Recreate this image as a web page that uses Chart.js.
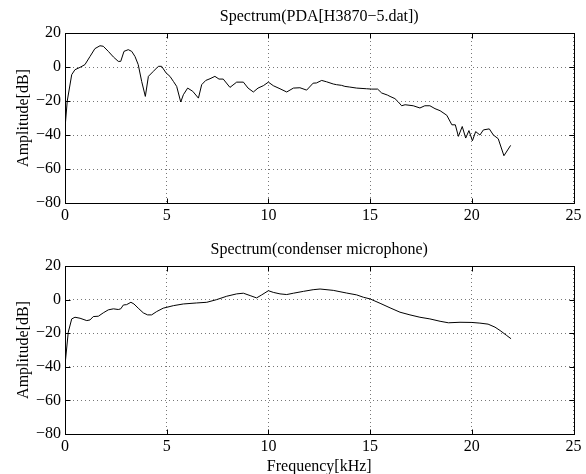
<!DOCTYPE html>
<html>
<head>
<meta charset="utf-8">
<script src="https://cdn.jsdelivr.net/npm/chart.js@4/dist/chart.umd.min.js"></script>
<style>
body { margin: 0; background: #fff; overflow: hidden; }
canvas { position: absolute; left: 0; }
</style>
</head>
<body>
<canvas id="topChart" width="586" height="237" style="top:0px"></canvas>
<canvas id="botChart" width="586" height="240" style="top:237px"></canvas>
<script>
// --- data
const xTicks = [0, 5, 10, 15, 20, 25];
const yTicks = [-80, -60, -40, -20, 0, 20];

const pdaFreq = [0, 0.11, 0.33, 0.49, 0.74, 0.98, 1.23, 1.47, 1.72, 1.88, 2.13, 2.38, 2.62, 2.74, 2.9,
  3.11, 3.28, 3.44, 3.6, 3.77, 3.95, 4.1, 4.34, 4.59, 4.75, 4.97, 5.16, 5.33, 5.49, 5.69, 5.82,
  6.03, 6.28, 6.56, 6.72, 6.92, 7.13, 7.37, 7.57, 7.78, 8.11, 8.44, 8.77, 9.0, 9.26, 9.49, 9.75,
  10.0, 10.24, 10.57, 10.9, 11.23, 11.55, 11.88, 12.2, 12.36, 12.62, 12.86, 13.19, 13.35, 13.6,
  13.76, 14.0, 14.34, 14.83, 15.08, 15.37, 15.57, 15.85, 15.98, 16.22, 16.39, 16.55, 16.72, 17.12,
  17.45, 17.69, 17.94, 18.19, 18.44, 18.77, 19.02, 19.19, 19.34, 19.53, 19.7, 19.86, 20.03, 20.19,
  20.4, 20.57, 20.86, 21.06, 21.3, 21.58, 21.91];
const pdaAmp = [-36, -20, -4.5, -1.6, -0.2, 1.4, 6.2, 10.8, 12.5, 12.2, 9.2, 5.9, 3.3, 3.3, 9.2,
  10.2, 9.2, 6.2, 1.4, -8.5, -17.3, -5.5, -2.6, 0.4, 0.4, -3.5, -5.5, -8.5, -11.4, -20.6, -16.3,
  -12.4, -14.3, -18.3, -10.4, -7.9, -6.9, -5.5, -7.1, -7.1, -12, -8.9, -8.9, -12.4, -14.7, -12.4, -11,
  -8.9, -11, -12.8, -14.7, -12.4, -12.2, -13.6, -9.5, -9.4, -7.9, -8.7, -10, -10.4, -10.8,
  -11.4, -11.8, -12.4, -12.8, -13, -13, -15.3, -16.5, -17.3, -18.6, -20.6, -22.8, -22.2, -22.8,
  -24.1, -22.8, -22.8, -24.5, -25.7, -28.4, -34, -34, -40.8, -35, -41.8, -37.4, -43.4, -38,
  -40, -37, -36.4, -40, -42.2, -52.2, -46.1];

const micFreq = [0, 0.16, 0.33, 0.49, 0.74, 1.07, 1.23, 1.39, 1.64, 1.88, 2.13, 2.38, 2.62, 2.74, 2.87,
  3.03, 3.24, 3.39, 3.6, 3.85, 4.06, 4.26, 4.51, 4.83, 5.33, 5.82, 6.47, 6.97, 7.46, 7.95, 8.44,
  8.77, 9.1, 9.42, 9.67, 10.0, 10.24, 10.57, 10.9, 11.23, 11.72, 12.2, 12.54, 13.19, 13.85, 14.34,
  14.67, 15.0, 15.49, 15.98, 16.47, 16.96, 17.45, 17.94, 18.44, 18.85, 19.42, 20.0, 20.4, 20.8,
  21.14, 21.39, 21.72, 21.93];
const micAmp = [-39, -19.4, -11.5, -10.5, -11.1, -12.5, -12.1, -10.1, -9.9, -7.9, -6.1, -5.5, -5.9, -5.5, -3.2,
  -3, -1.6, -2.6, -5.1, -7.9, -9.1, -9.1, -7.1, -5.1, -3.6, -2.6, -2, -1.6, 0, 2, 3.4,
  3.8, 2.4, 1, 2.8, 5.3, 4.3, 3.4, 3, 3.8, 4.9, 5.9, 6.3, 5.5, 3.9, 2.8,
  1.4, 0.4, -2.2, -4.9, -7.5, -9.1, -10.5, -11.5, -12.9, -13.8, -13.5, -13.6, -14, -14.6,
  -16.4, -18.4, -21.4, -23.3];

const FONT = 'Liberation Serif';
const FSIZE = 16;

// box round the axes with inward ticks, plus the title above it
const boxPlugin = {
  id: 'box',
  afterDraw(chart, args, opts) {
    const a = chart.chartArea, ctx = chart.ctx;
    const xs = chart.scales.x, ys = chart.scales.y;
    const L = Math.round(a.left) + 0.5, R = Math.round(a.right) + 0.5;
    const T = Math.round(a.top) + 0.5, B = Math.round(a.bottom) + 0.5;
    ctx.save();
    ctx.strokeStyle = '#000';
    ctx.lineWidth = 1;
    ctx.beginPath();
    xs.ticks.forEach(function (t) {
      const px = Math.round(xs.getPixelForValue(t.value)) + 0.5;
      ctx.moveTo(px, B); ctx.lineTo(px, B - 5);
      ctx.moveTo(px, T); ctx.lineTo(px, T + 5);
    });
    ys.ticks.forEach(function (t) {
      const py = Math.round(ys.getPixelForValue(t.value)) + 0.5;
      ctx.moveTo(L, py); ctx.lineTo(L + 5, py);
      ctx.moveTo(R, py); ctx.lineTo(R - 5, py);
    });
    ctx.stroke();
    ctx.strokeRect(L, T, R - L, B - T);
    ctx.fillStyle = '#000';
    ctx.font = FSIZE + 'px "' + FONT + '"';
    ctx.textAlign = 'center';
    ctx.textBaseline = 'middle';
    ctx.fillText(opts.text, (a.left + a.right) / 2, a.top - 16);
    ctx.restore();
  }
};

function minusLabel(v) {
  return v < 0 ? '\u2212' + Math.abs(v) : String(v);
}

function makeChart(id, freq, amp, title, padTop, xHeight, xTitle) {
  const points = freq.map(function (f, i) { return { x: f, y: amp[i] }; });
  return new Chart(document.getElementById(id), {
    type: 'scatter',
    data: {
      datasets: [{
        data: points,
        showLine: true,
        borderColor: '#000',
        borderWidth: 1,
        pointRadius: 0,
        tension: 0
      }]
    },
    options: {
      responsive: false,
      animation: false,
      layout: { padding: { top: padTop, right: 12.5, left: 0, bottom: 0 } },
      plugins: {
        legend: { display: false },
        tooltip: { enabled: false },
        box: { text: title }
      },
      scales: {
        x: {
          type: 'linear', min: 0, max: 25,
          afterBuildTicks: function (s) { s.ticks = xTicks.map(function (v) { return { value: v }; }); },
          afterFit: function (s) { s.height = xHeight; },
          grid: { color: '#777', drawTicks: false },
          border: { display: false, dash: [1, 3] },
          ticks: { autoSkip: false, maxRotation: 0, padding: 3, color: '#000', font: { family: FONT, size: FSIZE } },
          title: { display: !!xTitle, text: xTitle || '', color: '#000', padding: { top: 0, bottom: 1 }, font: { family: FONT, size: FSIZE } }
        },
        y: {
          type: 'linear', min: -80, max: 20,
          afterBuildTicks: function (s) { s.ticks = yTicks.map(function (v) { return { value: v }; }); },
          afterFit: function (s) { s.width = 65; },
          grid: { color: '#777', drawTicks: false },
          border: { display: false, dash: [1, 3] },
          ticks: { padding: 4, color: '#000', font: { family: FONT, size: FSIZE }, callback: minusLabel },
          title: { display: true, text: 'Amplitude[dB]', color: '#000', padding: { top: 14, bottom: 0 }, font: { family: FONT, size: FSIZE } }
        }
      }
    },
    plugins: [boxPlugin]
  });
}

makeChart('topChart', pdaFreq, pdaAmp, 'Spectrum(PDA[H3870\u22125.dat])', 33, 34, null);
makeChart('botChart', micFreq, micAmp, 'Spectrum(condenser microphone)', 29, 43, 'Frequency[kHz]');
</script>
</body>
</html>
